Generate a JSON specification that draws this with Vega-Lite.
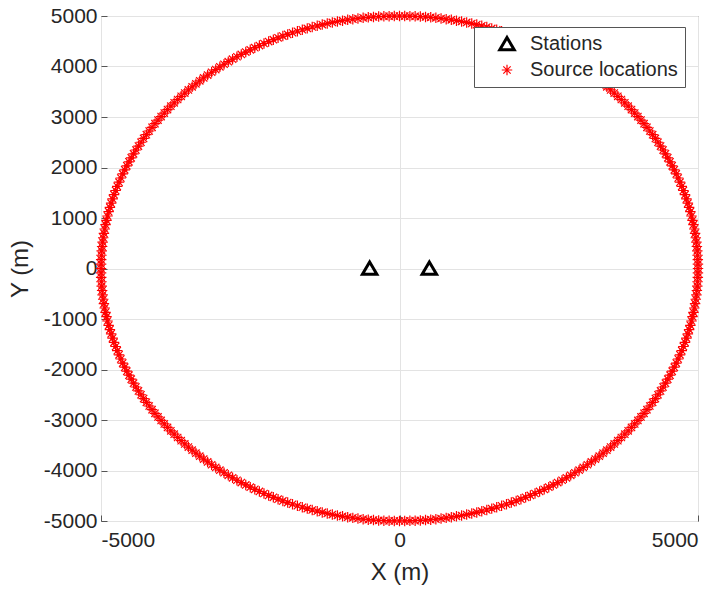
{
"$schema": "https://vega.github.io/schema/vega-lite/v6.json",
"width": 597, "height": 505,
"autosize": {"type": "none"},
"padding": {"left": 101, "top": 16, "right": 25, "bottom": 68},
"background": "white",
"config": {
  "font": "Liberation Sans",
  "view": {"stroke": "#666666", "strokeWidth": 1},
  "axis": {"domain": false, "grid": true, "gridColor": "#e3e3e3", "gridWidth": 1, "tickColor": "#555555", "tickSize": -6, "labelFont": "Liberation Sans", "labelFontSize": 21, "labelColor": "#262626", "labelPadding": 10, "labelExpr": "'' + datum.value", "titleFont": "Liberation Sans", "titleFontSize": 24, "titleFontWeight": "normal", "titleColor": "#262626"},
  "legend": {"orient": "none", "legendX": 373, "legendY": 11, "fillColor": "white", "strokeColor": "#555555", "padding": 7, "labelFontSize": 20, "labelFont": "Liberation Sans", "labelColor": "#262626", "rowPadding": 4, "symbolOffset": 16, "labelOffset": 13, "title": null}
},
"datasets": {
"sta": [{"x": -500, "y": 0}, {"x": 500, "y": 0}],
"src": [
{"x":5000,"y":0},{"x":4999,"y":87},{"x":4997,"y":174},{"x":4993,"y":262},{"x":4988,"y":349},{"x":4981,"y":436},{"x":4973,"y":523},{"x":4963,"y":609},{"x":4951,"y":696},{"x":4938,"y":782},{"x":4924,"y":868},{"x":4908,"y":954},{"x":4891,"y":1040},{"x":4872,"y":1125},{"x":4851,"y":1210},{"x":4830,"y":1294},{"x":4806,"y":1378},{"x":4782,"y":1462},{"x":4755,"y":1545},{"x":4728,"y":1628},{"x":4698,"y":1710},{"x":4668,"y":1792},{"x":4636,"y":1873},{"x":4603,"y":1954},{"x":4568,"y":2034},{"x":4532,"y":2113},{"x":4494,"y":2192},{"x":4455,"y":2270},{"x":4415,"y":2347},{"x":4373,"y":2424},{"x":4330,"y":2500},{"x":4286,"y":2575},{"x":4240,"y":2650},{"x":4193,"y":2723},{"x":4145,"y":2796},{"x":4096,"y":2868},{"x":4045,"y":2939},{"x":3993,"y":3009},{"x":3940,"y":3078},{"x":3886,"y":3147},{"x":3830,"y":3214},{"x":3774,"y":3280},{"x":3716,"y":3346},{"x":3657,"y":3410},{"x":3597,"y":3473},{"x":3536,"y":3536},{"x":3473,"y":3597},{"x":3410,"y":3657},{"x":3346,"y":3716},{"x":3280,"y":3774},{"x":3214,"y":3830},{"x":3147,"y":3886},{"x":3078,"y":3940},{"x":3009,"y":3993},{"x":2939,"y":4045},{"x":2868,"y":4096},{"x":2796,"y":4145},{"x":2723,"y":4193},{"x":2650,"y":4240},{"x":2575,"y":4286},{"x":2500,"y":4330},{"x":2424,"y":4373},{"x":2347,"y":4415},{"x":2270,"y":4455},{"x":2192,"y":4494},{"x":2113,"y":4532},{"x":2034,"y":4568},{"x":1954,"y":4603},{"x":1873,"y":4636},{"x":1792,"y":4668},{"x":1710,"y":4698},{"x":1628,"y":4728},{"x":1545,"y":4755},{"x":1462,"y":4782},{"x":1378,"y":4806},{"x":1294,"y":4830},{"x":1210,"y":4851},{"x":1125,"y":4872},{"x":1040,"y":4891},{"x":954,"y":4908},{"x":868,"y":4924},{"x":782,"y":4938},{"x":696,"y":4951},{"x":609,"y":4963},{"x":523,"y":4973},{"x":436,"y":4981},{"x":349,"y":4988},{"x":262,"y":4993},{"x":174,"y":4997},{"x":87,"y":4999},
{"x":0,"y":5000},{"x":-87,"y":4999},{"x":-174,"y":4997},{"x":-262,"y":4993},{"x":-349,"y":4988},{"x":-436,"y":4981},{"x":-523,"y":4973},{"x":-609,"y":4963},{"x":-696,"y":4951},{"x":-782,"y":4938},{"x":-868,"y":4924},{"x":-954,"y":4908},{"x":-1040,"y":4891},{"x":-1125,"y":4872},{"x":-1210,"y":4851},{"x":-1294,"y":4830},{"x":-1378,"y":4806},{"x":-1462,"y":4782},{"x":-1545,"y":4755},{"x":-1628,"y":4728},{"x":-1710,"y":4698},{"x":-1792,"y":4668},{"x":-1873,"y":4636},{"x":-1954,"y":4603},{"x":-2034,"y":4568},{"x":-2113,"y":4532},{"x":-2192,"y":4494},{"x":-2270,"y":4455},{"x":-2347,"y":4415},{"x":-2424,"y":4373},{"x":-2500,"y":4330},{"x":-2575,"y":4286},{"x":-2650,"y":4240},{"x":-2723,"y":4193},{"x":-2796,"y":4145},{"x":-2868,"y":4096},{"x":-2939,"y":4045},{"x":-3009,"y":3993},{"x":-3078,"y":3940},{"x":-3147,"y":3886},{"x":-3214,"y":3830},{"x":-3280,"y":3774},{"x":-3346,"y":3716},{"x":-3410,"y":3657},{"x":-3473,"y":3597},{"x":-3536,"y":3536},{"x":-3597,"y":3473},{"x":-3657,"y":3410},{"x":-3716,"y":3346},{"x":-3774,"y":3280},{"x":-3830,"y":3214},{"x":-3886,"y":3147},{"x":-3940,"y":3078},{"x":-3993,"y":3009},{"x":-4045,"y":2939},{"x":-4096,"y":2868},{"x":-4145,"y":2796},{"x":-4193,"y":2723},{"x":-4240,"y":2650},{"x":-4286,"y":2575},{"x":-4330,"y":2500},{"x":-4373,"y":2424},{"x":-4415,"y":2347},{"x":-4455,"y":2270},{"x":-4494,"y":2192},{"x":-4532,"y":2113},{"x":-4568,"y":2034},{"x":-4603,"y":1954},{"x":-4636,"y":1873},{"x":-4668,"y":1792},{"x":-4698,"y":1710},{"x":-4728,"y":1628},{"x":-4755,"y":1545},{"x":-4782,"y":1462},{"x":-4806,"y":1378},{"x":-4830,"y":1294},{"x":-4851,"y":1210},{"x":-4872,"y":1125},{"x":-4891,"y":1040},{"x":-4908,"y":954},{"x":-4924,"y":868},{"x":-4938,"y":782},{"x":-4951,"y":696},{"x":-4963,"y":609},{"x":-4973,"y":523},{"x":-4981,"y":436},{"x":-4988,"y":349},{"x":-4993,"y":262},{"x":-4997,"y":174},{"x":-4999,"y":87},
{"x":-5000,"y":0},{"x":-4999,"y":-87},{"x":-4997,"y":-174},{"x":-4993,"y":-262},{"x":-4988,"y":-349},{"x":-4981,"y":-436},{"x":-4973,"y":-523},{"x":-4963,"y":-609},{"x":-4951,"y":-696},{"x":-4938,"y":-782},{"x":-4924,"y":-868},{"x":-4908,"y":-954},{"x":-4891,"y":-1040},{"x":-4872,"y":-1125},{"x":-4851,"y":-1210},{"x":-4830,"y":-1294},{"x":-4806,"y":-1378},{"x":-4782,"y":-1462},{"x":-4755,"y":-1545},{"x":-4728,"y":-1628},{"x":-4698,"y":-1710},{"x":-4668,"y":-1792},{"x":-4636,"y":-1873},{"x":-4603,"y":-1954},{"x":-4568,"y":-2034},{"x":-4532,"y":-2113},{"x":-4494,"y":-2192},{"x":-4455,"y":-2270},{"x":-4415,"y":-2347},{"x":-4373,"y":-2424},{"x":-4330,"y":-2500},{"x":-4286,"y":-2575},{"x":-4240,"y":-2650},{"x":-4193,"y":-2723},{"x":-4145,"y":-2796},{"x":-4096,"y":-2868},{"x":-4045,"y":-2939},{"x":-3993,"y":-3009},{"x":-3940,"y":-3078},{"x":-3886,"y":-3147},{"x":-3830,"y":-3214},{"x":-3774,"y":-3280},{"x":-3716,"y":-3346},{"x":-3657,"y":-3410},{"x":-3597,"y":-3473},{"x":-3536,"y":-3536},{"x":-3473,"y":-3597},{"x":-3410,"y":-3657},{"x":-3346,"y":-3716},{"x":-3280,"y":-3774},{"x":-3214,"y":-3830},{"x":-3147,"y":-3886},{"x":-3078,"y":-3940},{"x":-3009,"y":-3993},{"x":-2939,"y":-4045},{"x":-2868,"y":-4096},{"x":-2796,"y":-4145},{"x":-2723,"y":-4193},{"x":-2650,"y":-4240},{"x":-2575,"y":-4286},{"x":-2500,"y":-4330},{"x":-2424,"y":-4373},{"x":-2347,"y":-4415},{"x":-2270,"y":-4455},{"x":-2192,"y":-4494},{"x":-2113,"y":-4532},{"x":-2034,"y":-4568},{"x":-1954,"y":-4603},{"x":-1873,"y":-4636},{"x":-1792,"y":-4668},{"x":-1710,"y":-4698},{"x":-1628,"y":-4728},{"x":-1545,"y":-4755},{"x":-1462,"y":-4782},{"x":-1378,"y":-4806},{"x":-1294,"y":-4830},{"x":-1210,"y":-4851},{"x":-1125,"y":-4872},{"x":-1040,"y":-4891},{"x":-954,"y":-4908},{"x":-868,"y":-4924},{"x":-782,"y":-4938},{"x":-696,"y":-4951},{"x":-609,"y":-4963},{"x":-523,"y":-4973},{"x":-436,"y":-4981},{"x":-349,"y":-4988},{"x":-262,"y":-4993},{"x":-174,"y":-4997},{"x":-87,"y":-4999},
{"x":0,"y":-5000},{"x":87,"y":-4999},{"x":174,"y":-4997},{"x":262,"y":-4993},{"x":349,"y":-4988},{"x":436,"y":-4981},{"x":523,"y":-4973},{"x":609,"y":-4963},{"x":696,"y":-4951},{"x":782,"y":-4938},{"x":868,"y":-4924},{"x":954,"y":-4908},{"x":1040,"y":-4891},{"x":1125,"y":-4872},{"x":1210,"y":-4851},{"x":1294,"y":-4830},{"x":1378,"y":-4806},{"x":1462,"y":-4782},{"x":1545,"y":-4755},{"x":1628,"y":-4728},{"x":1710,"y":-4698},{"x":1792,"y":-4668},{"x":1873,"y":-4636},{"x":1954,"y":-4603},{"x":2034,"y":-4568},{"x":2113,"y":-4532},{"x":2192,"y":-4494},{"x":2270,"y":-4455},{"x":2347,"y":-4415},{"x":2424,"y":-4373},{"x":2500,"y":-4330},{"x":2575,"y":-4286},{"x":2650,"y":-4240},{"x":2723,"y":-4193},{"x":2796,"y":-4145},{"x":2868,"y":-4096},{"x":2939,"y":-4045},{"x":3009,"y":-3993},{"x":3078,"y":-3940},{"x":3147,"y":-3886},{"x":3214,"y":-3830},{"x":3280,"y":-3774},{"x":3346,"y":-3716},{"x":3410,"y":-3657},{"x":3473,"y":-3597},{"x":3536,"y":-3536},{"x":3597,"y":-3473},{"x":3657,"y":-3410},{"x":3716,"y":-3346},{"x":3774,"y":-3280},{"x":3830,"y":-3214},{"x":3886,"y":-3147},{"x":3940,"y":-3078},{"x":3993,"y":-3009},{"x":4045,"y":-2939},{"x":4096,"y":-2868},{"x":4145,"y":-2796},{"x":4193,"y":-2723},{"x":4240,"y":-2650},{"x":4286,"y":-2575},{"x":4330,"y":-2500},{"x":4373,"y":-2424},{"x":4415,"y":-2347},{"x":4455,"y":-2270},{"x":4494,"y":-2192},{"x":4532,"y":-2113},{"x":4568,"y":-2034},{"x":4603,"y":-1954},{"x":4636,"y":-1873},{"x":4668,"y":-1792},{"x":4698,"y":-1710},{"x":4728,"y":-1628},{"x":4755,"y":-1545},{"x":4782,"y":-1462},{"x":4806,"y":-1378},{"x":4830,"y":-1294},{"x":4851,"y":-1210},{"x":4872,"y":-1125},{"x":4891,"y":-1040},{"x":4908,"y":-954},{"x":4924,"y":-868},{"x":4938,"y":-782},{"x":4951,"y":-696},{"x":4963,"y":-609},{"x":4973,"y":-523},{"x":4981,"y":-436},{"x":4988,"y":-349},{"x":4993,"y":-262},{"x":4997,"y":-174},{"x":4999,"y":-87}
]
},
"encoding": {
  "x": {"field": "x", "type": "quantitative", "scale": {"domain": [-5000, 5000], "nice": false, "zero": false}, "axis": {"values": [-5000, 0, 5000], "title": "X (m)", "labelPadding": 14, "titlePadding": 10}},
  "y": {"field": "y", "type": "quantitative", "scale": {"domain": [-5000, 5000], "nice": false, "zero": false}, "axis": {"values": [-5000, -4000, -3000, -2000, -1000, 0, 1000, 2000, 3000, 4000, 5000], "title": "Y (m)", "titlePadding": 11}}
},
"layer": [
  {"data": {"name": "src"}, "mark": {"type": "point", "filled": false, "clip": false, "opacity": 1},
   "encoding": {
     "color": {"datum": "Source locations", "type": "nominal", "scale": {"domain": ["Stations", "Source locations"], "range": ["#000000", "#ff0000"]}, "legend": {"title": null}},
     "shape": {"datum": "Source locations", "type": "nominal", "scale": {"domain": ["Stations", "Source locations"], "range": ["M0,-0.85L0.95,0.75L-0.95,0.75Z", "M-1,0L1,0M0,-1L0,1M-0.7,-0.7L0.7,0.7M-0.7,0.7L0.7,-0.7"]}},
     "size": {"datum": "Source locations", "type": "nominal", "scale": {"domain": ["Stations", "Source locations"], "range": [230, 110]}},
     "strokeWidth": {"datum": "Source locations", "type": "nominal", "scale": {"domain": ["Stations", "Source locations"], "range": [3, 1.2]}}
   }},
  {"data": {"name": "sta"}, "mark": {"type": "point", "filled": false, "clip": false, "opacity": 1},
   "encoding": {
     "color": {"datum": "Stations", "type": "nominal"},
     "shape": {"datum": "Stations", "type": "nominal"},
     "size": {"datum": "Stations", "type": "nominal"},
     "strokeWidth": {"datum": "Stations", "type": "nominal"}
   }}
]
}
